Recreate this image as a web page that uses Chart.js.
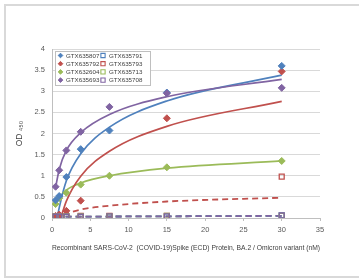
<!DOCTYPE html>
<html><head><meta charset="utf-8">
<script src="https://cdn.jsdelivr.net/npm/chart.js@4.4.1/dist/chart.umd.min.js"></script>
<style>
html,body{margin:0;padding:0;background:#fff;width:359px;height:280px;overflow:hidden;}
#frame{position:absolute;left:4px;top:4px;width:380px;height:270px;border:2px solid #d9d9d9;}
#c{position:absolute;left:0;top:0;}
</style></head><body>
<div id="frame"></div>
<canvas id="c" width="359" height="280"></canvas>
<script>
// ---- data ----
const concentrations = [0.47, 0.94, 1.875, 3.75, 7.5, 15, 30];
const GTX635807 = [0.42, 0.52, 0.97, 1.63, 2.07, 2.97, 3.60];
const GTX635792 = [0.05, 0.08, 0.17, 0.41, null, 2.36, 3.47];
const GTX632604 = [0.33, 0.47, 0.60, 0.79, 1.00, 1.20, 1.35];
const GTX635693 = [0.74, 1.13, 1.60, 2.04, 2.63, 2.95, 3.08];
const GTX635791 = [0.03, 0.03, 0.03, 0.03, 0.04, 0.04, 0.06];
const GTX635793 = [0.04, 0.04, 0.04, 0.05, 0.05, 0.05, 0.98];
const GTX635713 = [0.03, 0.03, 0.04, 0.04, 0.04, 0.05, 0.05];
const GTX635708 = [0.03, 0.03, 0.03, 0.03, 0.04, 0.04, 0.06];

// trendlines
const trend807X = [0.68, 0.94, 1.875, 3.75, 7.5, 15, 30];
const trend807Y = [0.00, 0.24, 0.88, 1.52, 2.15, 2.77, 3.38];
const trend792X = [1.15, 1.875, 3.75, 7.5, 15, 30];
const trend792Y = [0.00, 0.40, 0.99, 1.58, 2.17, 2.76];
const trend604X = [0.47, 0.94, 1.875, 3.75, 7.5, 15, 30];
const trend604Y = [0.31, 0.48, 0.66, 0.83, 1.00, 1.18, 1.35];
const trend693X = [0.47, 0.94, 1.875, 3.75, 7.5, 15, 30];
const trend693Y = [0.72, 1.15, 1.60, 2.02, 2.45, 2.87, 3.28];
const trend793X = [1.5, 1.875, 3.75, 7.5, 15, 30];
const trend793Y = [0.07, 0.10, 0.20, 0.29, 0.39, 0.48];
const trendFlatX = [0.47, 30];
const trendFlatY = [0.03, 0.05];

const xTicks = [0, 5, 10, 15, 20, 25, 30, 35];
const yTicks = [0, 0.5, 1, 1.5, 2, 2.5, 3, 3.5, 4];

const BLUE = '#4F81BD', RED = '#C0504D', GREEN = '#9BBB59', PURPLE = '#8064A2';
const FONT = '"Liberation Sans", Arial, sans-serif';

const pts = (xs, ys) => xs.map((x, i) => ({x: x, y: ys[i]}));

function markerSet(label, values, color, style, col, row, order) {
  const open = style === 'rect';
  return {
    label, data: pts(concentrations, values), showLine: false,
    pointStyle: style, pointRadius: 3.5, pointHoverRadius: 3.5,
    borderColor: color, backgroundColor: open ? 'rgba(255,255,255,0)' : color,
    pointBorderWidth: open ? 1.3 : 1, legendCol: col, legendRow: row, order
  };
}
function trendSet(xs, ys, color, dashed, order) {
  return {
    label: '', data: pts(xs, ys), showLine: true, pointRadius: 0, pointHoverRadius: 0,
    borderColor: color, borderWidth: dashed ? 1.8 : 1.7, borderDash: dashed ? [6, 4] : [],
    cubicInterpolationMode: 'monotone', fill: false, order
  };
}

const datasets = [
  markerSet('GTX635807', GTX635807, BLUE, 'rectRot', 0, 0, 5),
  markerSet('GTX635792', GTX635792, RED, 'rectRot', 0, 1, 6),
  markerSet('GTX632604', GTX632604, GREEN, 'rectRot', 0, 2, 7),
  markerSet('GTX635693', GTX635693, PURPLE, 'rectRot', 0, 3, 4),
  markerSet('GTX635791', GTX635791, BLUE, 'rect', 1, 0, 3),
  markerSet('GTX635793', GTX635793, RED, 'rect', 1, 1, 2),
  markerSet('GTX635713', GTX635713, GREEN, 'rect', 1, 2, 1),
  markerSet('GTX635708', GTX635708, PURPLE, 'rect', 1, 3, 0),
  trendSet(trend807X, trend807Y, BLUE, false, 12),
  trendSet(trend792X, trend792Y, RED, false, 13),
  trendSet(trend604X, trend604Y, GREEN, false, 14),
  trendSet(trend693X, trend693Y, PURPLE, false, 11),
  trendSet(trend793X, trend793Y, RED, true, 10),
  trendSet(trendFlatX, trendFlatY, GREEN, true, 17),
  trendSet(trendFlatX, trendFlatY, BLUE, true, 16),
  trendSet(trendFlatX, trendFlatY, PURPLE, true, 15)
];

const boxLegend = {
  id: 'boxLegend',
  afterDraw(chart) {
    const ctx = chart.ctx;
    const bx = 55.5, by = 51.5, bw = 95, bh = 34;
    ctx.save();
    ctx.fillStyle = '#ffffff';
    ctx.fillRect(bx, by, bw, bh);
    ctx.strokeStyle = '#bfbfbf';
    ctx.lineWidth = 1;
    ctx.strokeRect(bx, by, bw, bh);
    ctx.font = '6.2px ' + FONT;
    ctx.textBaseline = 'middle';
    ctx.textAlign = 'left';
    chart.data.datasets.forEach(ds => {
      if (ds.legendCol === undefined) return;
      const mx = ds.legendCol === 0 ? 60.5 : 103;
      const tx = ds.legendCol === 0 ? 66 : 109;
      const y = 55.5 + ds.legendRow * 8.2;
      ctx.fillStyle = ds.backgroundColor;
      ctx.strokeStyle = ds.borderColor;
      ctx.lineWidth = ds.pointStyle === 'rect' ? 1.1 : 1;
      Chart.helpers.drawPoint(ctx, {pointStyle: ds.pointStyle, radius: ds.pointStyle === 'rect' ? 3 : 2.3, borderWidth: ctx.lineWidth, rotation: 0}, mx, y);
      ctx.fillStyle = '#404040';
      ctx.fillText(ds.label, tx, y + 0.3);
    });
    ctx.restore();
  }
};

new Chart(document.getElementById('c'), {
  type: 'scatter',
  data: {datasets},
  plugins: [boxLegend],
  options: {
    responsive: false, animation: false, devicePixelRatio: 1,
    layout: {padding: {left: 0, top: 49, right: 39, bottom: 0}},
    plugins: {legend: {display: false}, tooltip: {enabled: false}},
    scales: {
      x: {
        type: 'linear', min: 0, max: 35,
        afterFit: s => { s.height = 62; },
        afterBuildTicks: s => { s.ticks = xTicks.map(v => ({value: v})); },
        ticks: {color: '#595959', font: {size: 7.5, family: FONT}, padding: 4, maxRotation: 0, callback: v => String(v)},
        grid: {display: true, drawOnChartArea: false, drawTicks: true, tickLength: 3, color: '#bfbfbf'},
        border: {display: true, color: '#bfbfbf'},
        title: {display: true, text: 'Recombinant SARS-CoV-2  (COVID-19)Spike (ECD) Protein, BA.2 / Omicron variant (nM)',
          color: '#404040', font: {size: 7.9, family: FONT}, padding: {top: 0, bottom: 27}}
      },
      y: {
        min: 0, max: 4,
        afterFit: s => { s.width = 52; },
        afterBuildTicks: s => { s.ticks = yTicks.map(v => ({value: v})); },
        ticks: {color: '#595959', font: {size: 7.5, family: FONT}, padding: 7, callback: v => String(v)},
        grid: {color: '#d9d9d9', drawTicks: false},
        border: {display: true, color: '#bfbfbf'},
        title: {display: true, text: 'OD ₄₅₀', color: '#404040', font: {size: 8.5, family: FONT}, padding: {top: 15, bottom: 0}}
      }
    }
  }
});
</script>
</body></html>
